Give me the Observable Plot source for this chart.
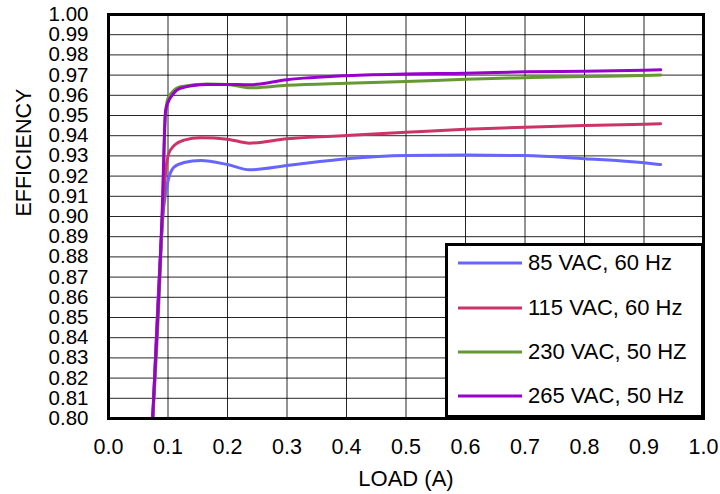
<!DOCTYPE html>
<html>
<head>
<meta charset="utf-8">
<script src="https://cdn.jsdelivr.net/npm/d3@7"></script>
<script src="https://cdn.jsdelivr.net/npm/@observablehq/plot@0.6"></script>
<style>
  html, body { margin: 0; padding: 0; background: #fff; }
  #wrap { position: relative; width: 720px; height: 494px; font-family: "Liberation Sans", Arial, sans-serif; }
  #legend { position: absolute; left: 445px; top: 243px; width: 259px; height: 175px; box-sizing: border-box;
            border: 3px solid #000; background: #fff; }
  .row { position: absolute; left: 0; height: 30px; display: flex; align-items: center; }
  .row svg { margin-left: 10px; }
  .row span { margin-left: 6px; font-size: 22px; color: #000; white-space: nowrap; }
</style>
</head>
<body>
<div id="wrap"></div>
<script>
// ---- data ----
const seriesNames = ["85 VAC, 60 Hz", "115 VAC, 60 Hz", "230 VAC, 50 HZ", "265 VAC, 50 Hz"];
const seriesColors = ["#6666FF", "#CC3366", "#669933", "#9900CC"];

const load85  = [0.0745, 0.093, 0.0995, 0.104, 0.110, 0.127, 0.155, 0.200, 0.237, 0.300, 0.400, 0.500, 0.600, 0.700, 0.800, 0.900, 0.928];
const eff85   = [0.800, 0.905, 0.9170, 0.9215, 0.9245, 0.9267, 0.9277, 0.9257, 0.9231, 0.9252, 0.9286, 0.9302, 0.9304, 0.9302, 0.9286, 0.9266, 0.9257];

const load115 = [0.0745, 0.092, 0.097, 0.101, 0.110, 0.127, 0.155, 0.200, 0.237, 0.300, 0.400, 0.500, 0.600, 0.700, 0.800, 0.900, 0.928];
const eff115  = [0.800, 0.905, 0.925, 0.931, 0.935, 0.9378, 0.939, 0.9383, 0.9363, 0.9385, 0.9401, 0.9417, 0.9432, 0.9442, 0.9450, 0.9457, 0.9459];

const load230 = [0.0745, 0.091, 0.0955, 0.100, 0.107, 0.121, 0.166, 0.200, 0.237, 0.300, 0.400, 0.500, 0.600, 0.700, 0.800, 0.900, 0.928];
const eff230  = [0.800, 0.905, 0.950, 0.9585, 0.9615, 0.9642, 0.9656, 0.9654, 0.9637, 0.9650, 0.9660, 0.9668, 0.9680, 0.9687, 0.9693, 0.9698, 0.9700];

const load265 = [0.074, 0.0905, 0.0958, 0.1008, 0.107, 0.121, 0.166, 0.200, 0.237, 0.300, 0.400, 0.500, 0.600, 0.700, 0.800, 0.900, 0.928];
const eff265  = [0.800, 0.905, 0.952, 0.957, 0.960, 0.9635, 0.9653, 0.9654, 0.9652, 0.9677, 0.9697, 0.9706, 0.9709, 0.9716, 0.9719, 0.9724, 0.9726];

const xTicks = [0.0, 0.1, 0.2, 0.3, 0.4, 0.5, 0.6, 0.7, 0.8, 0.9, 1.0];
const yTicks = [0.80, 0.81, 0.82, 0.83, 0.84, 0.85, 0.86, 0.87, 0.88, 0.89, 0.90,
                0.91, 0.92, 0.93, 0.94, 0.95, 0.96, 0.97, 0.98, 0.99, 1.00];
const xLabel = "LOAD (A)";
const yLabel = "EFFICIENCY";

// ---- build table ----
const loads = [load85, load115, load230, load265];
const effs = [eff85, eff115, eff230, eff265];
const rows = [];
seriesNames.forEach((name, i) => {
  loads[i].forEach((l, j) => rows.push({series: name, load: l, eff: effs[i][j]}));
});

const lineMarks = seriesNames.map((name, i) =>
  Plot.line(rows.filter(d => d.series === name), {
    x: "load", y: "eff", stroke: seriesColors[i], strokeWidth: 3, curve: "monotone-x"
  })
);

const chart = Plot.plot({
  width: 720,
  height: 494,
  marginTop: 14,
  marginRight: 17,
  marginBottom: 76,
  marginLeft: 108,
  style: { fontFamily: '"Liberation Sans", Arial, sans-serif', fontSize: "21px", color: "#000", background: "#fff" },
  x: { domain: [0, 1] },
  y: { domain: [0.8, 1.0] },
  marks: [
    Plot.gridX(xTicks, { stroke: "#000", strokeOpacity: 0.85, strokeWidth: 1 }),
    Plot.gridY(yTicks, { stroke: "#000", strokeOpacity: 0.85, strokeWidth: 1 }),
    Plot.axisX(xTicks, { tickSize: 0, tickPadding: 20, tickFormat: d3.format(".1f"), label: null, fontSize: 21.5 }),
    Plot.axisY(yTicks, { tickSize: 0, tickPadding: 20, tickFormat: d3.format(".2f"), label: null, fontSize: 20.5 }),
    ...lineMarks,
    Plot.frame({ stroke: "#000", strokeWidth: 3 }),
    Plot.text([xLabel], { text: d => d, frameAnchor: "bottom", dy: 60, lineAnchor: "middle", fontSize: 22 }),
    Plot.text([yLabel], { text: d => d, frameAnchor: "left", dx: -84, rotate: -90, lineAnchor: "middle", fontSize: 21.5 })
  ]
});

const wrap = document.getElementById("wrap");
wrap.appendChild(chart);

// ---- legend ----
const legend = document.createElement("div");
legend.id = "legend";
const rowCenters = [17, 62, 106, 150];
seriesNames.forEach((name, i) => {
  const r = document.createElement("div");
  r.className = "row";
  r.style.top = (rowCenters[i] - 15) + "px";
  r.innerHTML = `<svg width="64" height="6"><line x1="0" x2="64" y1="3" y2="3" stroke="${seriesColors[i]}" stroke-width="3"/></svg><span>${name}</span>`;
  legend.appendChild(r);
});
wrap.appendChild(legend);
</script>
</body>
</html>
